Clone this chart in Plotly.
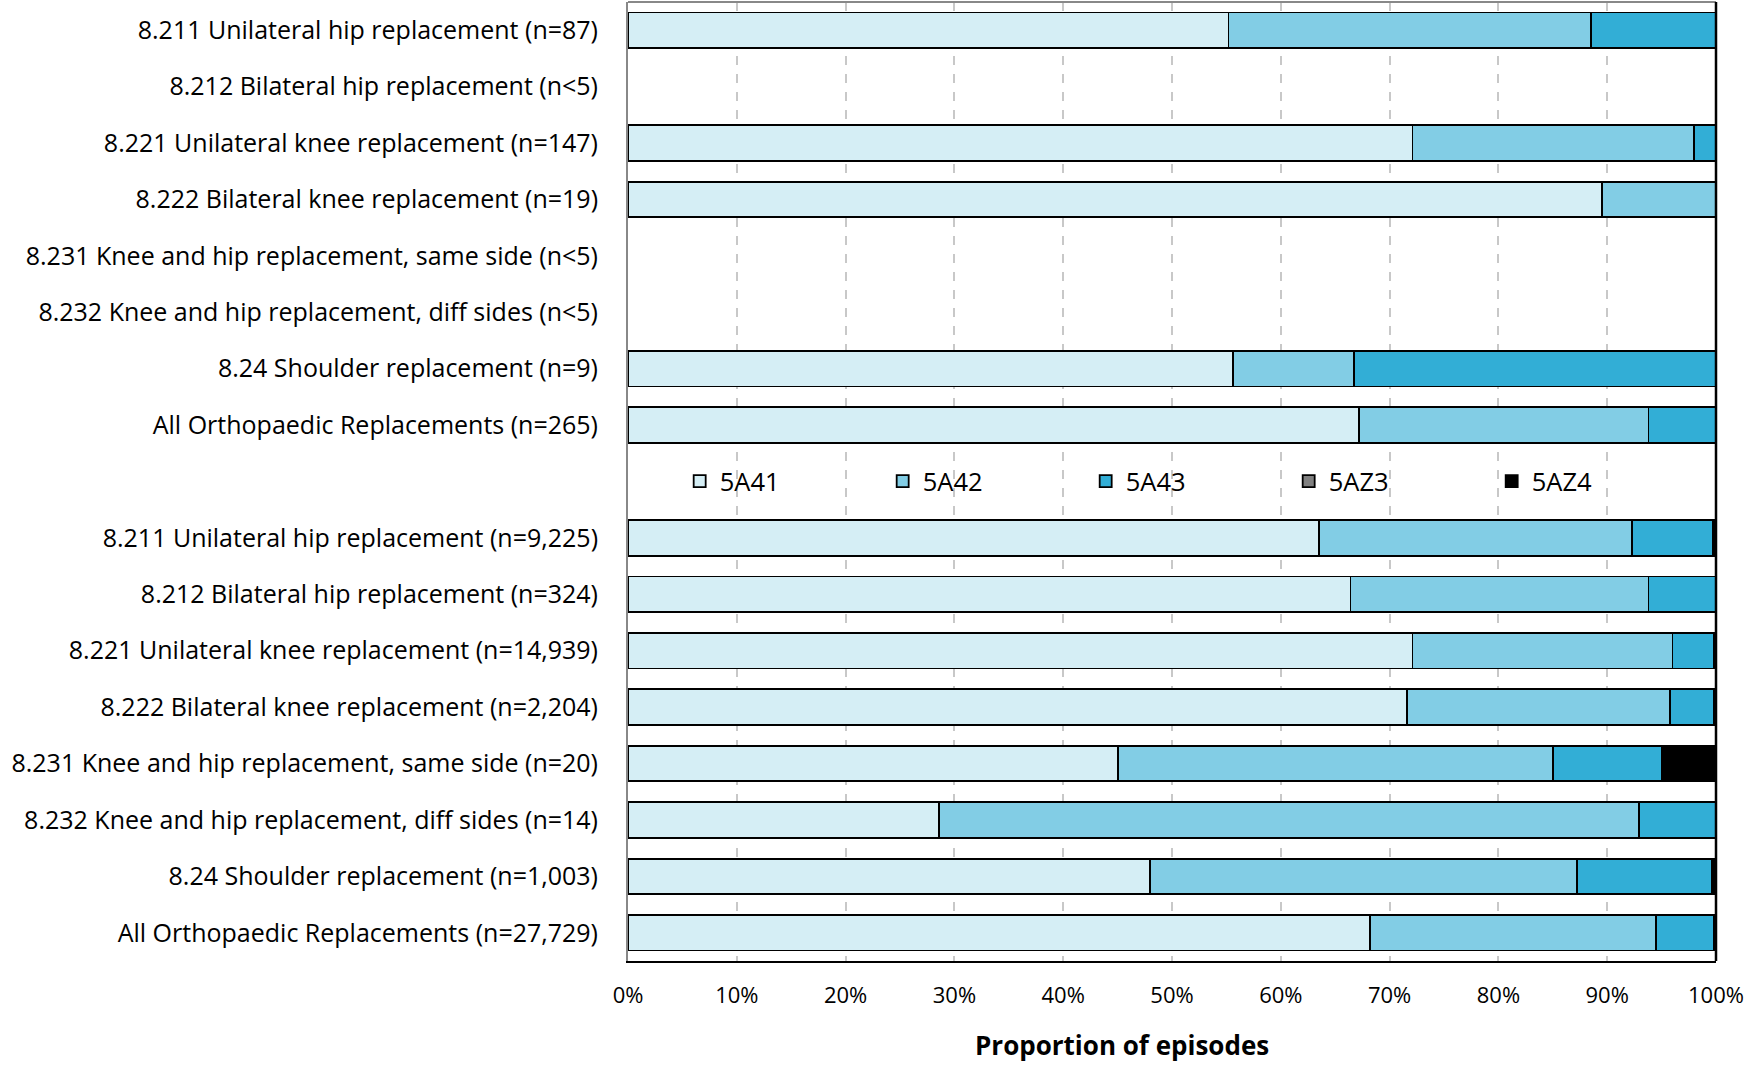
import plotly.graph_objects as go

categories = [
    "8.211 Unilateral hip replacement (n=87)",
    "8.212 Bilateral hip replacement (n<5)",
    "8.221 Unilateral knee replacement (n=147)",
    "8.222 Bilateral knee replacement (n=19)",
    "8.231 Knee and hip replacement, same side (n<5)",
    "8.232 Knee and hip replacement, diff sides (n<5)",
    "8.24 Shoulder replacement (n=9)",
    "All Orthopaedic Replacements (n=265)",
    "",
    "8.211 Unilateral hip replacement (n=9,225)",
    "8.212 Bilateral hip replacement (n=324)",
    "8.221 Unilateral knee replacement (n=14,939)",
    "8.222 Bilateral knee replacement (n=2,204)",
    "8.231 Knee and hip replacement, same side (n=20)",
    "8.232 Knee and hip replacement, diff sides (n=14)",
    "8.24 Shoulder replacement (n=1,003)",
    "All Orthopaedic Replacements (n=27,729)",
]

s_5A41 = [55.2, None, 72.1, 89.5, None, None, 55.6, 67.2, None, 63.5, 66.4, 72.1, 71.6, 45.0, 28.6, 48.0, 68.2]
s_5A42 = [33.3, None, 25.9, 10.5, None, None, 11.1, 26.6, None, 28.8, 27.4, 23.9, 24.2, 40.0, 64.3, 39.2, 26.3]
s_5A43 = [11.5, None, 2.0, 0.0, None, None, 33.3, 6.2, None, 7.4, 6.2, 3.8, 4.0, 10.0, 7.1, 12.4, 5.3]
s_5AZ3 = [0.0, None, 0.0, 0.0, None, None, 0.0, 0.0, None, 0.0, 0.0, 0.0, 0.0, 0.0, 0.0, 0.0, 0.0]
s_5AZ4 = [0.0, None, 0.0, 0.0, None, None, 0.0, 0.0, None, 0.3, 0.0, 0.2, 0.2, 5.0, 0.0, 0.4, 0.2]

series = [
    ("5A41", s_5A41, "#D5EEF5"),
    ("5A42", s_5A42, "#82CDE5"),
    ("5A43", s_5A43, "#32AED6"),
    ("5AZ3", s_5AZ3, "#808080"),
    ("5AZ4", s_5AZ4, "#000000"),
]

x_ticks = list(range(0, 101, 10))
x_ticktext = [f"{v}%" for v in x_ticks]
x_title = "Proportion of episodes"

FONT = "Open Sans"
ypos = list(range(len(categories)))

fig = go.Figure()
for name, vals, color in series:
    fig.add_trace(go.Bar(
        y=ypos, x=vals, name=name, orientation="h",
        marker=dict(color=color, line=dict(color="black", width=1.8)),
        width=0.63,
    ))

fig.update_layout(
    barmode="stack",
    width=1758, height=1066,
    margin=dict(l=628, r=42, t=2, b=105),
    paper_bgcolor="white", plot_bgcolor="white",
    font=dict(family=FONT, size=25, color="black"),
    showlegend=True,
    legend=dict(
        orientation="h", x=0.0475, y=0.5, xanchor="left", yanchor="middle",
        bgcolor="rgba(0,0,0,0)", font=dict(size=25.5, family=FONT),
        entrywidth=158, entrywidthmode="pixels", itemwidth=30,
        traceorder="normal",
    ),
    xaxis=dict(
        range=[0, 100], tickvals=x_ticks, ticktext=x_ticktext,
        showgrid=True, gridcolor="#C8C8C8", griddash="dash", gridwidth=1.5,
        showline=True, linecolor="black", linewidth=2,
        zeroline=False, ticks="", ticklabelstandoff=14,
        tickfont=dict(size=22, family=FONT),
        automargin=False,
    ),
    yaxis=dict(
        range=[len(categories) - 0.5, -0.5], tickvals=ypos, ticktext=categories,
        showgrid=False, zeroline=False,
        showline=True, linecolor="#888888", linewidth=2,
        ticks="", ticklabelstandoff=23, automargin=False,
        tickfont=dict(size=25, family=FONT),
    ),
    shapes=[
        dict(type="line", xref="paper", yref="paper", x0=0, x1=1, y0=1, y1=1,
             line=dict(color="#888888", width=2)),
        dict(type="line", xref="paper", yref="paper", x0=1, x1=1, y0=0, y1=1,
             line=dict(color="black", width=2.5)),
    ],
    annotations=[
        dict(text=f"<b>{x_title}</b>", xref="paper", yref="paper", x=0.454, y=0,
             yshift=-84, xanchor="center", yanchor="middle", showarrow=False,
             font=dict(size=26, family=FONT, color="black")),
    ],
)

fig.write_html("out.html", config={"displayModeBar": False},
               post_script="document.body.style.margin='0';document.body.style.overflow='hidden';")
